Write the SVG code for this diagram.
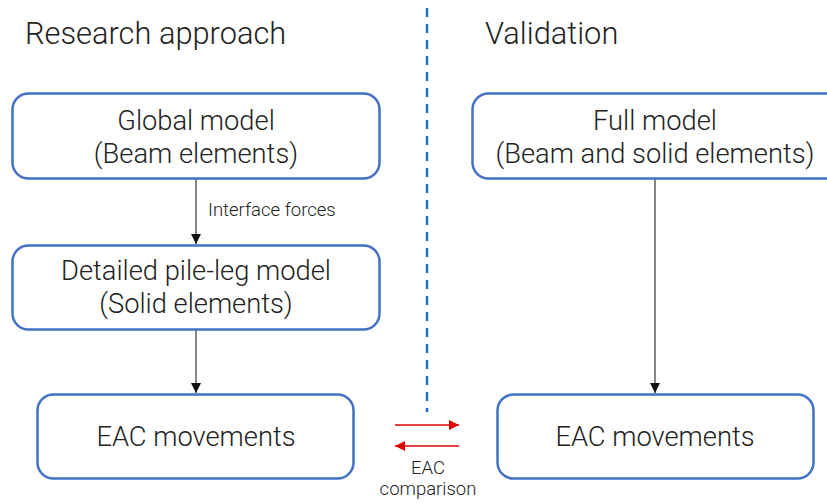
<svg xmlns="http://www.w3.org/2000/svg" width="827" height="503" viewBox="0 0 827 503">
<defs>
<style>
.box{fill:#fff;stroke:#4472c4;stroke-width:2.5}
.t{font-family:Roboto,"Liberation Sans",sans-serif;font-weight:300;fill:#222;text-anchor:middle}
.bt{font-size:27.3px}
.h{font-family:Roboto,"Liberation Sans",sans-serif;font-weight:300;fill:#222;font-size:30.8px}
.small{font-size:18.5px}
.conn{stroke:#333;stroke-width:1.2;fill:none}
.red{stroke:#e00000;stroke-width:1.3;fill:none}
</style>
<marker id="ah" viewBox="0 0 10 10" refX="10" refY="5" markerWidth="10" markerHeight="10" markerUnits="userSpaceOnUse" orient="auto">
<path d="M0,0 L10,5 L0,10 z" fill="#111"/>
</marker>
<marker id="ahr" viewBox="0 0 10 10" refX="10" refY="5" markerWidth="12" markerHeight="10" markerUnits="userSpaceOnUse" orient="auto">
<path d="M0,0 L10,5 L0,10 z" fill="#e00000"/>
</marker>
</defs>
<rect width="827" height="503" fill="#fff"/>
<text class="h" x="25" y="44">Research approach</text>
<text class="h" x="485" y="44">Validation</text>
<line x1="427" y1="8" x2="427" y2="412" stroke="#1f6fc0" stroke-width="2.5" stroke-dasharray="9,7"/>
<g id="connectors">
<line class="conn" x1="196" y1="179" x2="196" y2="244" marker-end="url(#ah)"/>
<text class="t small" x="208" y="216" style="text-anchor:start">Interface forces</text>
<line class="conn" x1="196" y1="330" x2="196" y2="393" marker-end="url(#ah)"/>
<line class="conn" x1="655" y1="179" x2="655" y2="393" marker-end="url(#ah)"/>
<line class="red" x1="395" y1="425" x2="459" y2="425" marker-end="url(#ahr)"/>
<line class="red" x1="459" y1="446" x2="395" y2="446" marker-end="url(#ahr)"/>
<text class="t small" x="428" y="474">EAC</text>
<text class="t small" x="428" y="495">comparison</text>
</g>
<g id="global">
<rect class="box" x="12.5" y="93.5" width="367" height="85" rx="16"/>
<text class="t bt" x="196" y="130">Global model</text>
<text class="t bt" x="196" y="163">(Beam elements)</text>
</g>
<g id="detailed">
<rect class="box" x="12.5" y="245.5" width="367" height="84" rx="16"/>
<text class="t bt" x="196" y="280">Detailed pile-leg model</text>
<text class="t bt" x="196" y="313">(Solid elements)</text>
</g>
<g id="eac-left">
<rect class="box" x="37.5" y="394.5" width="316" height="84" rx="16"/>
<text class="t bt" x="196" y="446">EAC movements</text>
</g>
<g id="full">
<rect class="box" x="472.5" y="93.5" width="370" height="85" rx="16"/>
<text class="t bt" x="655" y="130">Full model</text>
<text class="t bt" x="655" y="163">(Beam and solid elements)</text>
</g>
<g id="eac-right">
<rect class="box" x="497.5" y="394.5" width="316" height="84" rx="16"/>
<text class="t bt" x="655" y="446">EAC movements</text>
</g>
</svg>
